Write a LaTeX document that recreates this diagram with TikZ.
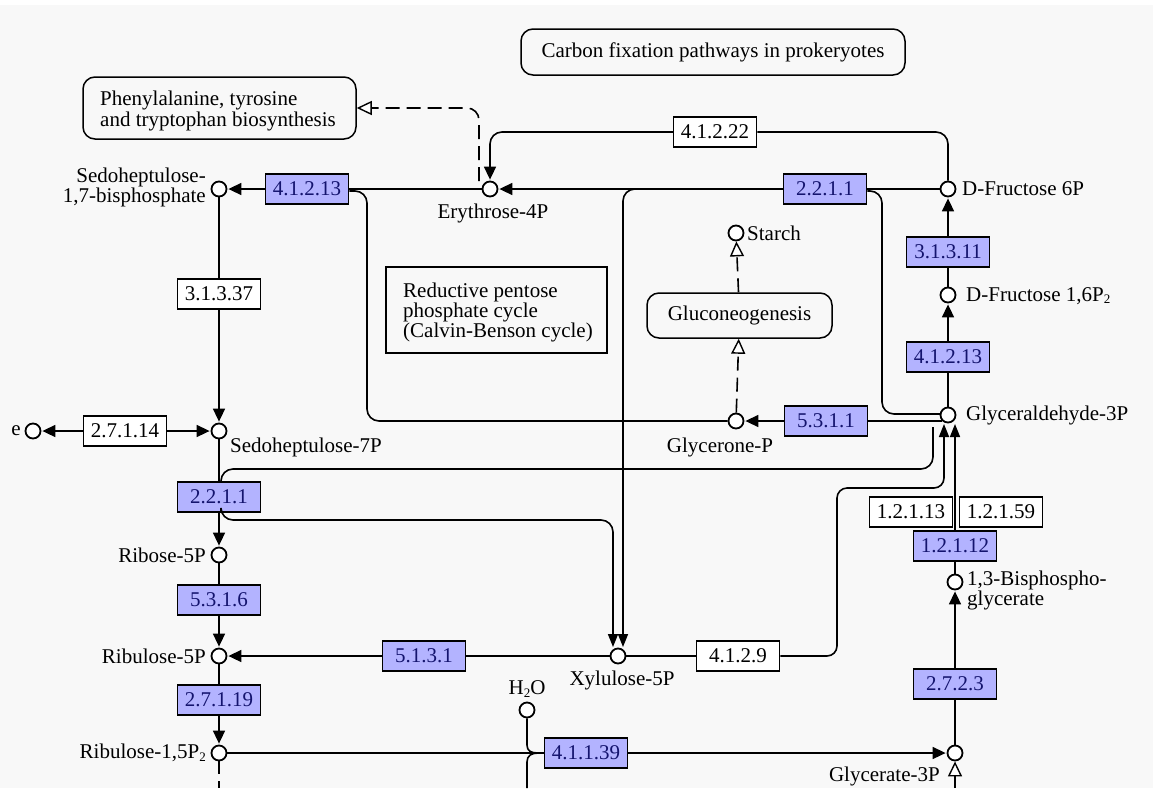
\documentclass[tikz,border=0pt]{standalone}
\usepackage{fontspec}
\setmainfont{Liberation Serif}
\usetikzlibrary{arrows.meta}
\definecolor{ecblue}{HTML}{B3B3FF}
\definecolor{ectext}{HTML}{14146E}
\definecolor{bgc}{HTML}{F8F8F8}
\newcommand{\ksub}[1]{\raisebox{-0.12em}{\fontsize{13}{13}\selectfont #1}}
\begin{document}
\begin{tikzpicture}[x=1pt,y=-1pt,
  every node/.style={font=\fontsize{21}{19}\selectfont},
  cpd/.style={circle,draw,line width=1.8pt,fill=white,minimum size=15pt,inner sep=0pt},
  ecb/.style={draw,line width=1.5pt,fill=ecblue,text=ectext,minimum width=83pt,minimum height=30pt,inner sep=0pt},
  ecw/.style={draw,line width=1.5pt,fill=white,text=black,minimum width=83pt,minimum height=30pt,inner sep=0pt},
  mapbox/.style={draw,line width=1.5pt,rounded corners=12pt,inner sep=0pt},
  lbl/.style={inner sep=0pt},
  con/.style={line width=1.6pt},
  arr/.style={-{Triangle[length=13pt,width=12pt]},shorten >=1pt},
  arrn/.style={-{Triangle[length=13pt,width=10pt]},shorten >=0pt},
  oarr/.style={-{Triangle[open,length=15pt,width=14pt,line width=1.4pt,fill=white]}},
  dsh/.style={dash pattern=on 14pt off 7pt}
]
\path[use as bounding box,fill=white] (0,0) rectangle (1153,788);
\fill[bgc] (0,5) rectangle (1153,788);

% ---- map boxes ----
\node[mapbox,minimum width=384pt,minimum height=46pt] (title) at (713,52) {Carbon fixation pathways in prokeryotes};
\node[mapbox,minimum width=273pt,minimum height=62pt] (phe) at (219.5,108) {};
\node[lbl,align=left,anchor=west] (phet) at (100,111) {Phenylalanine, tyrosine\\and tryptophan biosynthesis};
\node[draw,line width=1.5pt,minimum width=221pt,minimum height=86pt,inner sep=0pt] (rpp) at (496.5,310) {};
\node[lbl,align=left,anchor=west,font=\fontsize{21}{20}\selectfont] (rppt) at (403,312) {Reductive pentose\\phosphate cycle\\(Calvin-Benson cycle)};
\node[mapbox,minimum width=185pt,minimum height=45pt] (gluco) at (739.5,315.5) {Gluconeogenesis};

% ---- compounds ----
\node[cpd] (sbp) at (219,189) {};
\node[lbl,align=right,anchor=east] (sbpl) at (206,187) {Sedoheptulose-\\1,7-bisphosphate};
\node[cpd] (ery) at (490,189) {};
\node[lbl] (eryl) at (493,213) {Erythrose-4P};
\node[cpd] (f6p) at (948,189) {};
\node[lbl,anchor=west] (f6pl) at (962,189) {D-Fructose 6P};
\node[cpd] (f16) at (948,295) {};
\node[lbl,anchor=west] (f16l) at (966,296) {D-Fructose 1,6P\ksub{2}};
\node[cpd] (g3p) at (948,415) {};
\node[lbl,anchor=west] (g3pl) at (966,415) {Glyceraldehyde-3P};
\node[cpd] (starch) at (736,233) {};
\node[lbl,anchor=west] (starchl) at (747,233) {Starch};
\node[cpd] (gnp) at (736,421) {};
\node[lbl] (gnpl) at (720,447) {Glycerone-P};
\node[cpd] (s7p) at (219,431) {};
\node[lbl,anchor=west] (s7pl) at (230,447) {Sedoheptulose-7P};
\node[cpd] (ecpd) at (33,431) {};
\node[lbl,anchor=east] (ecpdl) at (21,431) {e};
\node[cpd] (r5p) at (219,555) {};
\node[lbl,anchor=east] (r5pl) at (206,555) {Ribose-5P};
\node[cpd] (ru5p) at (219,656) {};
\node[lbl,anchor=east] (ru5pl) at (206,656) {Ribulose-5P};
\node[cpd] (rubp) at (219,753) {};
\node[lbl,anchor=east] (rubpl) at (206,753) {Ribulose-1,5P\ksub{2}};
\node[cpd] (xyl) at (618,656) {};
\node[lbl] (xyll) at (622,680) {Xylulose-5P};
\node[cpd] (bpg) at (955,582) {};
\node[lbl,align=left,anchor=west,font=\fontsize{21}{18}\selectfont] (bpgl) at (967,590) {1,3-Bisphospho-\\glycerate};
\node[cpd] (gly3p) at (955,753) {};
\node[lbl,anchor=east] (gly3pl) at (940,776) {Glycerate-3P};
\node[cpd] (h2o) at (527,710) {};
\node[lbl] (h2ol) at (527,689) {H\ksub{2}O};

% ---- enzymes ----
\node[ecb] (e4121l) at (307,189) {4.1.2.13};
\node[ecb] (e2211t) at (825,189) {2.2.1.1};
\node[ecw] (e41222) at (715,132) {4.1.2.22};
\node[ecb] (e31311) at (948,252) {3.1.3.11};
\node[ecb] (e4121r) at (948,357) {4.1.2.13};
\node[ecb] (e5311) at (826,421) {5.3.1.1};
\node[ecw] (e31337) at (219,294) {3.1.3.37};
\node[ecw] (e27114) at (125,431) {2.7.1.14};
\node[ecb] (e2211l) at (219,497) {2.2.1.1};
\node[ecb] (e5316) at (219,600) {5.3.1.6};
\node[ecb] (e27119) at (219,700) {2.7.1.19};
\node[ecb] (e5131) at (424,656) {5.1.3.1};
\node[ecw] (e4129) at (738,656) {4.1.2.9};
\node[ecw] (e12113) at (911,512) {1.2.1.13};
\node[ecw] (e12159) at (1001,512) {1.2.1.59};
\node[ecb] (e12112) at (955,546) {1.2.1.12};
\node[ecb] (e2723) at (955,684) {2.7.2.3};
\node[ecb] (e41139) at (586,753) {4.1.1.39};

% ---- free ends ----
\coordinate (phec) at (479,181);
\coordinate (br1) at (638,189);
\coordinate (xa) at (613,647);
\coordinate (xb) at (623,647);
\coordinate (ga) at (941,414);
\coordinate (gb) at (942,421);
\coordinate (gc) at (933,427);
\coordinate (gd) at (944,424);
\coordinate (ge) at (955,424);
\coordinate (rubpd) at (219,788);
\coordinate (j1) at (538,753);
\coordinate (co2) at (527,788);
\coordinate (gly3pd) at (955,788);

% ---- connectors ----
\draw[con,dsh,oarr,rounded corners=12pt] (phec) |- (phe.east);
\draw[con,rounded corners=12pt] (f6p) |- (e41222);
\draw[con,arr,rounded corners=12pt] (e41222) -| (ery);
\draw[con,arr] (e4121l) -- (sbp);
\draw[con] (ery) -- (e4121l);
\draw[con,rounded corners=12pt] ([yshift=-2pt]e4121l.east) -- (367,191) |- (gnp);
\draw[con,arr] (e2211t) -- (ery);
\draw[con] (f6p) -- (e2211t);
\draw[con,arrn,rounded corners=12pt] (br1) -| (xb);
\draw[con,rounded corners=12pt] ([yshift=-2pt]e2211t.east) -- (882,191) |- (ga);
\draw[con] (gb) -- (e5311);
\draw[con,arr] (e5311) -- (gnp);
\draw[con,dsh,oarr] (gnp) -- (gluco);
\draw[con,dsh,oarr] (gluco) -- (starch);
\draw[con,arr] (e31311) -- (f6p);
\draw[con] (f16) -- (e31311);
\draw[con,arr] (e4121r) -- (f16);
\draw[con] (g3p) -- (e4121r);
\draw[con] (sbp) -- (e31337);
\draw[con,arr] (e31337) -- (s7p);
\draw[con,arr] (e27114) -- (s7p);
\draw[con,arr] (e27114) -- (ecpd);
\draw[con] (s7p) -- (e2211l);
\draw[con,arr] (e2211l) -- (r5p);
\draw[con,rounded corners=12pt] ([xshift=2pt]e2211l.north) -- (221,469) -| (gc);
\draw[con,arrn,rounded corners=12pt] ([xshift=2pt]e2211l.south) -- (221,520) -| (xa);
\draw[con] (r5p) -- (e5316);
\draw[con,arr] (e5316) -- (ru5p);
\draw[con] (xyl) -- (e5131);
\draw[con,arr] (e5131) -- (ru5p);
\draw[con] (ru5p) -- (e27119);
\draw[con,arr] (e27119) -- (rubp);
\draw[con,dash pattern=on 13pt off 7pt] (rubp) -- (rubpd);
\draw[con] (rubp) -- (e41139);
\draw[con,arr] (e41139) -- (gly3p);
\draw[con] (h2o) -- (527,745) .. controls (527,751) and (531,753) .. (j1);
\draw[con] (co2) -- (527,762) .. controls (527,756) and (531,753) .. (j1);
\draw[con] (xyl) -- (e4129);
\draw[con,arrn,rounded corners=10pt] (e4129) -- (837,656) |- (944,488) -- (gd);
\draw[con,arrn] (e12112) -- (ge);
\draw[con] (bpg) -- (e12112);
\draw[con,arr] (e2723) -- (bpg);
\draw[con] (gly3p) -- (e2723);
\draw[con,oarr] (gly3pd) -- (gly3p);
\end{tikzpicture}
\end{document}
